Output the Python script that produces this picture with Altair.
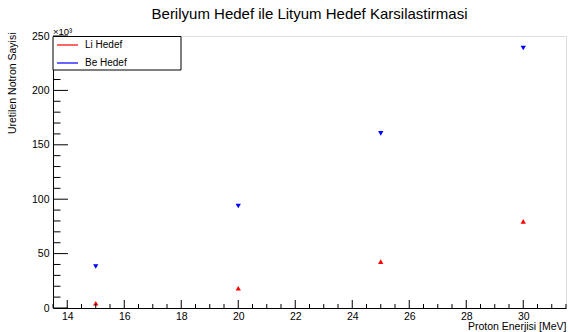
import altair as alt
import pandas as pd
import numpy as np

# ---- data (values in units of 10^3) ----
energy = [15, 20, 25, 30]
li_values = [4.3, 18.2, 42.6, 79.6]
be_values = [38.2, 93.8, 160.5, 238.9]
series_names = ["Li Hedef", "Be Hedef"]
series_colors = ["#ff0000", "#0000ff"]
series_shapes = ["triangle-up", "triangle-down"]

x_tick_labels = [14, 16, 18, 20, 22, 24, 26, 28, 30]
y_tick_labels = [0, 50, 100, 150, 200, 250]

title_text = "Berilyum Hedef ile Lityum Hedef Karsilastirmasi"
x_title = "Proton Enerjisi [MeV]"
y_title = "Uretilen Notron Sayisi"
exp_label = "×10³"

FONT = "Liberation Sans"
W, H = 513, 272

df = pd.DataFrame({
    "energy": energy * 2,
    "value": li_values + be_values,
    "series": [series_names[0]] * len(energy) + [series_names[1]] * len(energy),
})

x_minor = [v for v in np.arange(13.5, 31.51, 0.5) if v not in x_tick_labels]
y_minor = [v for v in range(0, 251, 10) if v not in y_tick_labels]

xs = alt.Scale(domain=[13.5, 31.5], nice=False, zero=False)
ys = alt.Scale(domain=[0, 250], nice=False, zero=False)

x_axis = alt.Axis(values=x_tick_labels, ticks=False, grid=False,
                  title=x_title, titleAnchor="end", titleFontSize=10.5,
                  titleFontWeight="normal", titleFont=FONT,
                  titleBaseline="alphabetic", titleY=21.5,
                  labelFontSize=10.5, labelFont=FONT, labelPadding=3,
                  domainColor="black", labelColor="black", titleColor="black")
y_axis = alt.Axis(values=y_tick_labels, ticks=False, grid=False,
                  title=y_title, titleAnchor="end", titleAngle=-90,
                  titleAlign="right", titleBaseline="middle",
                  titleX=-41, titleY=-4, titleFontSize=10.5,
                  titleFontWeight="normal", titleFont=FONT,
                  labelFontSize=10.5, labelFont=FONT, labelPadding=4,
                  domainColor="black", labelColor="black", titleColor="black")

pts = alt.Chart(df).mark_point(filled=True, size=28, opacity=1).encode(
    x=alt.X("energy:Q", scale=xs, axis=x_axis),
    y=alt.Y("value:Q", scale=ys, axis=y_axis),
    color=alt.Color("series:N", scale=alt.Scale(domain=series_names, range=series_colors), legend=None),
    shape=alt.Shape("series:N", scale=alt.Scale(domain=series_names, range=series_shapes), legend=None),
)

def xticks(vals, length):
    return alt.Chart(pd.DataFrame({"energy": vals})).mark_rule(color="black", strokeWidth=1).encode(
        x=alt.X("energy:Q", scale=xs, axis=x_axis), y=alt.value(H), y2=alt.value(H - length))

def yticks(vals, length):
    return alt.Chart(pd.DataFrame({"value": vals})).mark_rule(color="black", strokeWidth=1).encode(
        y=alt.Y("value:Q", scale=ys, axis=y_axis), x=alt.value(0), x2=alt.value(length))

one = pd.DataFrame({"a": [0]})

exp_text = alt.Chart(one).mark_text(align="left", baseline="alphabetic", fontSize=9.5,
                                    font=FONT, color="black").encode(
    x=alt.value(0), y=alt.value(-1), text=alt.value(exp_label))

leg_box = alt.Chart(one).mark_rect(fill="white", stroke="black", strokeWidth=1).encode(
    x=alt.value(0), x2=alt.value(128), y=alt.value(0.5), y2=alt.value(34))

leg_layers = [leg_box]
for i, (name, col) in enumerate(zip(series_names, series_colors)):
    yy = 9 + 18 * i
    leg_layers.append(alt.Chart(one).mark_rule(color=col, strokeWidth=2, opacity=0.6).encode(
        x=alt.value(4), x2=alt.value(25), y=alt.value(yy)))
    leg_layers.append(alt.Chart(one).mark_text(align="left", baseline="middle", fontSize=10,
                                               font=FONT, color="black").encode(
        x=alt.value(32), y=alt.value(yy), text=alt.value(name)))

chart = alt.layer(
    pts,
    xticks(x_tick_labels, 8), xticks(x_minor, 4),
    yticks(y_tick_labels, 15), yticks(y_minor, 7.5),
    exp_text,
    *leg_layers,
).properties(
    width=W, height=H,
    autosize="none",
    padding={"left": 53, "top": 36, "right": 3, "bottom": 24},
    title=alt.Title(title_text, fontSize=15, font=FONT, fontWeight="normal",
                    anchor="middle", frame="group", baseline="alphabetic",
                    offset=2, dy=9, color="black"),
).configure_view(stroke="#444", strokeWidth=1.5).configure(background="white")

chart.save("out.html", embed_options={"renderer": "svg", "actions": False})
